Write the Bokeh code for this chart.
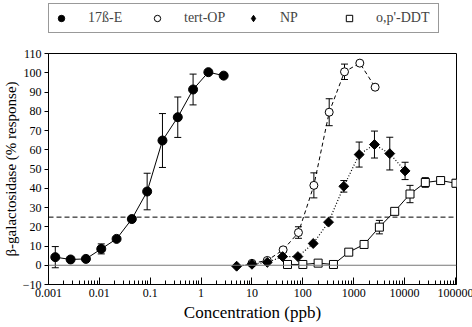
from bokeh.plotting import figure
from bokeh.layouts import column
from bokeh.models import (ColumnDataSource, Whisker, TeeHead, Span, Legend, LegendItem,
                          FixedTicker, CustomJSTickFormatter, Range1d, Title)
from bokeh.embed import file_html
from bokeh.resources import INLINE

# ---- data ----
e2_conc = [0.00136, 0.00272, 0.00544, 0.0109, 0.0218, 0.0435, 0.087, 0.174, 0.348, 0.696, 1.39, 2.78]
e2_resp = [4.2, 3.0, 3.3, 8.5, 13.7, 24.0, 38.3, 64.8, 76.9, 91.3, 100.3, 98.5]
e2_err = [5.5, 0, 0, 2.6, 0.8, 0.5, 9.5, 14, 10.5, 8, 0, 0]

op_conc = [10, 20, 41, 82, 165, 330, 660, 1320, 2640]
op_resp = [1.0, 2.5, 8.0, 17.0, 41.5, 79.5, 100.5, 105.0, 92.5]
op_err = [0.8, 0.8, 1.0, 3.0, 6.5, 7.0, 4.0, 0, 0]

np_conc = [5, 10, 20, 40, 80, 160, 320, 640, 1280, 2560, 5120, 10240]
np_resp = [-0.5, 0.5, 1.5, 4.5, 4.5, 11.3, 22.4, 41.0, 57.5, 62.7, 58.0, 49.0]
np_err = [0, 0, 0, 0, 0, 0, 0, 3.0, 6.5, 7.0, 8.5, 4.5]

ddt_conc = [50, 100, 200, 400, 800, 1600, 3200, 6400, 12800, 25600, 51200, 102400]
ddt_resp = [0.4, 0.4, 1.1, 0.4, 6.8, 10.8, 19.8, 28.0, 37.0, 43.0, 44.0, 42.6]
ddt_err = [0, 0, 0, 0, 1.0, 1.0, 3.5, 1.0, 4.5, 2.5, 1.0, 2.0]

x_ticks = [0.001, 0.01, 0.1, 1, 10, 100, 1000, 10000, 100000]
y_ticks = [-10, 0, 10, 20, 30, 40, 50, 60, 70, 80, 90, 100, 110]
names = ["17ß-E", "tert-OP", "NP", "o,p'-DDT"]
x_title = "Concentration (ppb)"
y_title = "β-galactosidase (% response)"

FONT = "Liberation Serif"

styles = [
    dict(marker="circle", size=9, fill_color="black", line_color="black", angle=0),
    dict(marker="circle", size=8, fill_color="white", line_color="black", angle=0),
    dict(marker="square", size=7, fill_color="black", line_color="black", angle=0.7854),
    dict(marker="square", size=8, fill_color="white", line_color="black", angle=0),
]
legend_styles = [
    dict(marker="circle", size=9, fill_color="black", line_color="black"),
    dict(marker="circle", size=8, fill_color="white", line_color="black"),
    dict(marker="diamond", size=12, fill_color="black", line_color="black"),
    dict(marker="square", size=8, fill_color="white", line_color="black"),
]

p = figure(frame_width=408, frame_height=231, x_axis_type="log", output_backend="svg",
           toolbar_location=None, x_range=Range1d(0.001, 105000), y_range=Range1d(-10, 110),
           min_border_left=47, min_border_right=17, min_border_top=17, min_border_bottom=43)
p.background_fill_color = "white"
p.border_fill_color = "white"
p.outline_line_color = "black"
p.outline_line_width = 1
p.xgrid.visible = False
p.ygrid.visible = False

minor = []
for k in range(-3, 5):
    for m in range(2, 10):
        minor.append(m * 10.0 ** k)
xa = p.xaxis[0]
ya = p.yaxis[0]
xa.ticker = FixedTicker(ticks=x_ticks, minor_ticks=minor)
xa.formatter = CustomJSTickFormatter(code="return String(tick);")
ya.ticker = FixedTicker(ticks=y_ticks)

for ax in (xa, ya):
    ax.axis_line_color = "black"
    ax.major_label_text_font = FONT
    ax.major_label_text_font_size = "12px"
    ax.major_label_text_color = "black"

xa.major_tick_in = 7
xa.major_tick_out = 0
xa.minor_tick_in = 4
xa.minor_tick_out = 0
xa.major_label_standoff = 4
ya.major_tick_in = 0
ya.major_tick_out = 4
ya.minor_tick_line_color = None
ya.major_label_standoff = 3

tx = Title(text=x_title, align="center", text_font=FONT, text_font_size="17px",
           text_font_style="normal", text_color="black", standoff=2, offset=0)
ty = Title(text=y_title, align="center", text_font=FONT, text_font_size="15px",
           text_font_style="normal", text_color="black", standoff=1, offset=0)
p.add_layout(tx, "below")
p.add_layout(ty, "left")

p.add_layout(Span(location=25, dimension="width", line_color="black", line_dash="5 3", line_width=1))
p.add_layout(Span(location=0, dimension="width", line_color="#777777", line_width=1))

def add_err(x, y, e):
    lo = [a - b for a, b in zip(y, e)]
    hi = [a + b for a, b in zip(y, e)]
    keep = [i for i in range(len(x)) if e[i] > 0]
    src = ColumnDataSource(dict(x=[x[i] for i in keep], lo=[lo[i] for i in keep], hi=[hi[i] for i in keep]))
    w = Whisker(source=src, base="x", lower="lo", upper="hi", line_color="black", line_width=1,
                upper_head=TeeHead(size=7, line_color="black", line_width=1),
                lower_head=TeeHead(size=7, line_color="black", line_width=1))
    p.add_layout(w)

add_err(e2_conc, e2_resp, e2_err)
add_err(op_conc, op_resp, op_err)
add_err(np_conc, np_resp, np_err)
add_err(ddt_conc, ddt_resp, ddt_err)

p.line(e2_conc, e2_resp, line_color="black", line_width=1)
p.line(op_conc, op_resp, line_color="black", line_width=1, line_dash="4 3")
p.line(np_conc, np_resp, line_color="black", line_width=1.2, line_dash="1 2")
p.line(ddt_conc, ddt_resp, line_color="black", line_width=1)

series = [(e2_conc, e2_resp), (op_conc, op_resp), (np_conc, np_resp), (ddt_conc, ddt_resp)]
for (xs, ys), st in zip(series, styles):
    p.scatter(xs, ys, **st)

# ---- legend strip above the plot (proxy glyphs placed outside the visible range) ----
lp = figure(width=472, height=36, output_backend="svg", toolbar_location=None,
            x_range=Range1d(0, 1), y_range=Range1d(0, 1),
            x_axis_location=None, y_axis_location=None, min_border=0)
lp.xgrid.visible = False
lp.ygrid.visible = False
lp.outline_line_color = None
lp.background_fill_color = "white"
lp.border_fill_color = "white"

items = []
for n, st in zip(names, legend_styles):
    r = lp.scatter(x=[-5], y=[-5], **st)
    items.append(LegendItem(label=n, renderers=[r]))

legend = Legend(items=items, orientation="horizontal", location=(0, 3))
legend.label_text_font = FONT
legend.label_text_font_size = "14px"
legend.label_width = 58
legend.glyph_width = 16
legend.label_standoff = 19
legend.spacing = 3
legend.padding = 4
legend.margin = 0
legend.border_line_color = "#333333"
legend.border_line_width = 1.5
lp.add_layout(legend)

layout = column(lp, p, spacing=0)
open("out.html", "w").write(file_html(layout, INLINE))
